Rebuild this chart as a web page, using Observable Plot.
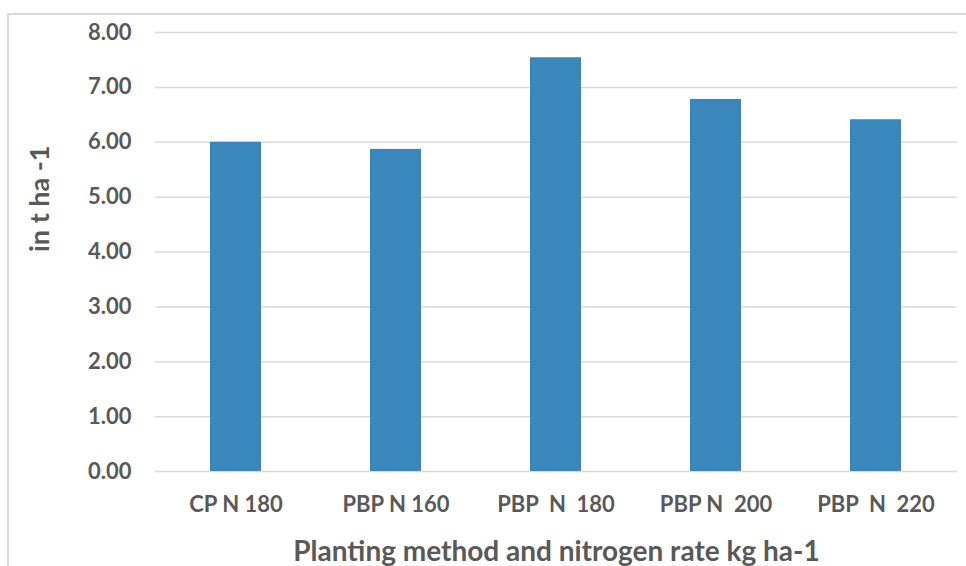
<!DOCTYPE html>
<html>
<head>
<meta charset="utf-8">
<script src="https://cdn.jsdelivr.net/npm/d3@7"></script>
<script src="https://cdn.jsdelivr.net/npm/@observablehq/plot@0.6"></script>
<style>
  html, body { margin: 0; padding: 0; background: #fff; }
  #wrap { position: relative; width: 966px; height: 566px; overflow: hidden; }
  #border { position: absolute; left: 7px; top: 13px; right: -5px; bottom: -5px;
            border-left: 2px solid #d9d9d9; border-top: 2px solid #d9d9d9; pointer-events: none; }
  #chart { position: absolute; left: 0; top: 0; }
</style>
</head>
<body>
<div id="wrap"><div id="border"></div><div id="chart"></div></div>
<script>
const categories = ["CP N 180", "PBP N 160", "PBP  N  180", "PBP N  200", "PBP  N  220"];
const yields = [6.00, 5.87, 7.54, 6.78, 6.41];
const yTicks = [0, 1, 2, 3, 4, 5, 6, 7, 8];
const xTitle = "Planting method and nitrogen rate kg ha-1";
const yTitle = "in t ha -1";

const data = categories.map((c, i) => ({category: c, value: yields[i]}));
const textColor = "#595959";
const font = "Lato, 'Open Sans', sans-serif";

const plot = Plot.plot({
  width: 966,
  height: 566,
  marginLeft: 155,
  marginRight: 9,
  marginTop: 32,
  marginBottom: 95,
  style: {fontFamily: font, background: "transparent", overflow: "visible"},
  x: {domain: categories, paddingInner: 0.68, paddingOuter: 0.34, label: null},
  y: {domain: [0, 8], label: null},
  marks: [
    Plot.gridY(yTicks, {stroke: "#d9d9d9", strokeOpacity: 1, strokeWidth: 1.5}),
    Plot.barY(data, {x: "category", y: "value", fill: "#3a87bc"}),
    Plot.axisY(yTicks, {tickSize: 0, tickPadding: 24, tickFormat: d => d.toFixed(2),
      fontSize: 22, fontWeight: "bold", fill: textColor, label: null}),
    Plot.axisX({tickSize: 0, tickPadding: 25, tickFormat: d => d.replace(/ /g, "\u00a0"),
      fontSize: 22, fontWeight: "bold", fill: textColor, label: null}),
    Plot.text([xTitle], {frameAnchor: "bottom", dy: 89, text: d => d,
      fontSize: 28, fontWeight: "bold", fill: textColor}),
    Plot.text([yTitle], {frameAnchor: "left", dx: -115, rotate: -90, text: d => d,
      fontSize: 27, fontWeight: "bold", fill: textColor})
  ]
});
document.getElementById("chart").appendChild(plot);
</script>
</body>
</html>
